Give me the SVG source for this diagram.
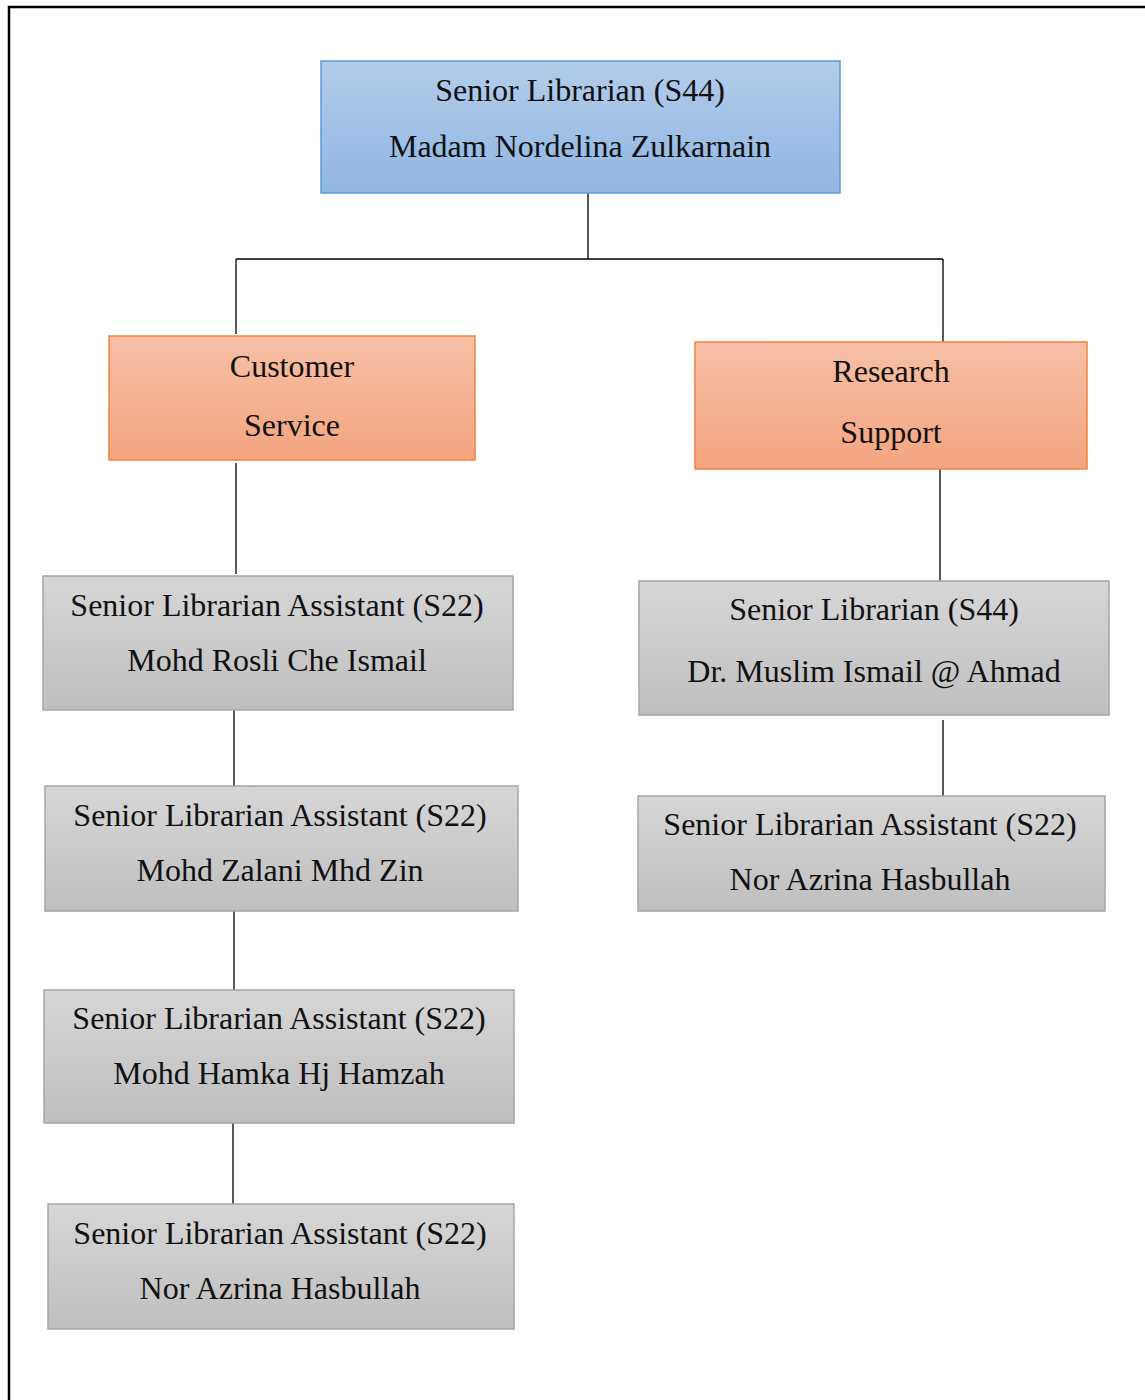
<svg xmlns="http://www.w3.org/2000/svg" width="1145" height="1400" viewBox="0 0 1145 1400">
  <defs>
    <linearGradient id="gBlue" x1="0" y1="0" x2="0" y2="1">
      <stop offset="0" stop-color="#b3cceb"/>
      <stop offset="1" stop-color="#90b6e2"/>
    </linearGradient>
    <linearGradient id="gOrange" x1="0" y1="0" x2="0" y2="1">
      <stop offset="0" stop-color="#f7c0a6"/>
      <stop offset="1" stop-color="#f4a47f"/>
    </linearGradient>
    <linearGradient id="gGray" x1="0" y1="0" x2="0" y2="1">
      <stop offset="0" stop-color="#d6d6d6"/>
      <stop offset="1" stop-color="#bfbfbf"/>
    </linearGradient>
  </defs>
  <style>
    .blue { fill: url(#gBlue); stroke: #5f9ad6; stroke-width: 1.5; }
    .orange { fill: url(#gOrange); stroke: #ee8740; stroke-width: 1.5; }
    .gray { fill: url(#gGray); stroke: #a6a6a6; stroke-width: 1.5; }
    text { font-family: "Liberation Serif", "Times New Roman", serif; font-size: 32px; fill: #111; text-anchor: middle; }
    .conn line { stroke: #000; stroke-width: 1.3; }
  </style>

  <rect width="1145" height="1400" fill="#fff"/>
  <!-- page frame -->
  <path d="M9 1400 V7 H1145" fill="none" stroke="#000" stroke-width="2.5"/>

  <g id="connectors" class="conn">
    <line x1="588" y1="193" x2="588" y2="259"/>
    <line x1="236" y1="259" x2="943" y2="259"/>
    <line x1="236" y1="259" x2="236" y2="334"/>
    <line x1="943" y1="259" x2="943" y2="342"/>
    <line x1="236" y1="463" x2="236" y2="574"/>
    <line x1="234" y1="710" x2="234" y2="786"/>
    <line x1="234" y1="911" x2="234" y2="990"/>
    <line x1="233" y1="1123" x2="233" y2="1204"/>
    <line x1="940" y1="469" x2="940" y2="581"/>
    <line x1="943" y1="720" x2="943" y2="796"/>
  </g>

  <g id="head">
    <rect class="blue" x="321" y="61" width="519" height="132"/>
    <text x="580" y="101">Senior Librarian (S44)</text>
    <text x="580" y="157">Madam Nordelina Zulkarnain</text>
  </g>

  <g id="customer-service">
    <rect class="orange" x="109" y="336" width="366" height="124"/>
    <text x="292" y="377">Customer</text>
    <text x="292" y="436">Service</text>
  </g>

  <g id="research-support">
    <rect class="orange" x="695" y="342" width="392" height="127"/>
    <text x="891" y="382">Research</text>
    <text x="891" y="443">Support</text>
  </g>

  <g id="cs-1">
    <rect class="gray" x="43" y="576" width="470" height="134"/>
    <text x="277" y="616">Senior Librarian Assistant (S22)</text>
    <text x="277" y="671">Mohd Rosli Che Ismail</text>
  </g>

  <g id="cs-2">
    <rect class="gray" x="45" y="786" width="473" height="125"/>
    <text x="280" y="826">Senior Librarian Assistant (S22)</text>
    <text x="280" y="881">Mohd Zalani Mhd Zin</text>
  </g>

  <g id="cs-3">
    <rect class="gray" x="44" y="990" width="470" height="133"/>
    <text x="279" y="1029">Senior Librarian Assistant (S22)</text>
    <text x="279" y="1084">Mohd Hamka Hj Hamzah</text>
  </g>

  <g id="cs-4">
    <rect class="gray" x="48" y="1204" width="466" height="125"/>
    <text x="280" y="1244">Senior Librarian Assistant (S22)</text>
    <text x="280" y="1299">Nor Azrina Hasbullah</text>
  </g>

  <g id="rs-1">
    <rect class="gray" x="639" y="581" width="470" height="134"/>
    <text x="874" y="620">Senior Librarian (S44)</text>
    <text x="874" y="682">Dr. Muslim Ismail @ Ahmad</text>
  </g>

  <g id="rs-2">
    <rect class="gray" x="638" y="796" width="467" height="115"/>
    <text x="870" y="835">Senior Librarian Assistant (S22)</text>
    <text x="870" y="890">Nor Azrina Hasbullah</text>
  </g>
</svg>
